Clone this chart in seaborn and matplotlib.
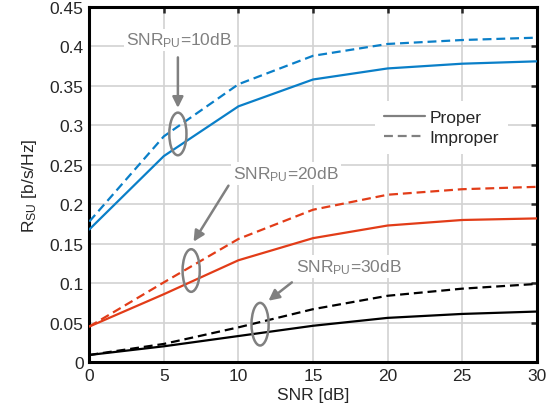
import numpy as np
import pandas as pd
import matplotlib
matplotlib.use('Agg')
import matplotlib.pyplot as plt
import matplotlib as mpl
from matplotlib.patches import Ellipse
from matplotlib.lines import Line2D
import seaborn as sns

# data
snr = [0, 5, 10, 15, 20, 25, 30]
proper_10 = [0.168, 0.261, 0.324, 0.358, 0.372, 0.378, 0.381]
improper_10 = [0.178, 0.286, 0.352, 0.388, 0.403, 0.408, 0.411]
proper_20 = [0.045, 0.086, 0.129, 0.157, 0.173, 0.180, 0.182]
improper_20 = [0.045, 0.101, 0.156, 0.193, 0.212, 0.219, 0.222]
proper_30 = [0.009, 0.020, 0.033, 0.046, 0.056, 0.061, 0.064]
improper_30 = [0.009, 0.023, 0.044, 0.067, 0.084, 0.093, 0.099]

rows = []
for pu, prop, imp in [('10dB', proper_10, improper_10),
                      ('20dB', proper_20, improper_20),
                      ('30dB', proper_30, improper_30)]:
    for x, p, q in zip(snr, prop, imp):
        rows.append({'SNR': x, 'R': p, 'pu': pu, 'kind': 'Proper'})
        rows.append({'SNR': x, 'R': q, 'pu': pu, 'kind': 'Improper'})
df = pd.DataFrame(rows)

sns.set_style('white')
mpl.rcParams['font.family'] = ['Liberation Sans', 'DejaVu Sans']
mpl.rcParams['mathtext.fontset'] = 'custom'
mpl.rcParams['mathtext.rm'] = 'Liberation Sans'
mpl.rcParams['mathtext.it'] = 'Liberation Sans'
fontSize = 12.5

fig, ax = plt.subplots(figsize=(5.58, 4.14), dpi=100)
fig.subplots_adjust(left=0.160, right=0.962, top=0.981, bottom=0.123)

palette = {'10dB': '#0a7fc8', '20dB': '#e23c18', '30dB': 'black'}
dashes = {'Proper': '', 'Improper': (4, 2.2)}
sns.lineplot(ax=ax, data=df, x='SNR', y='R', hue='pu', style='kind',
             palette=palette, dashes=dashes, linewidth=1.6, legend=False,
             zorder=3)

ax.set_xlim(0, 30)
ax.set_ylim(0, 0.45)
ax.set_xticks(snr)
ax.set_yticks(np.arange(0, 0.451, 0.05))
ax.set_yticklabels(['0', '0.05', '0.1', '0.15', '0.2', '0.25', '0.3',
                    '0.35', '0.4', '0.45'])
ax.grid(True, color='#d2d2d2', linewidth=1.2, zorder=0)
ax.set_axisbelow(True)
for s in ax.spines.values():
    s.set_visible(True)
    s.set_color('black')
    s.set_linewidth(2.2)
ax.tick_params(direction='in', length=4, width=1.8, top=True, right=True,
               labelsize=fontSize, pad=4)
ax.set_xlabel('SNR [dB]', fontsize=fontSize, labelpad=3)
ax.set_ylabel(r'R$_{\mathrm{SU}}$ [b/s/Hz]', fontsize=fontSize, labelpad=8)

gray = '#808080'
# ellipses around curve pairs
for cx, cy in [(5.94, 0.289), (6.83, 0.116), (11.45, 0.048)]:
    ax.add_patch(Ellipse((cx, cy), 1.15, 0.054, fill=False, edgecolor=gray,
                         linewidth=1.8, zorder=4))

# arrows
arrows = [((5.94, 0.386), (5.94, 0.322)),
          ((9.33, 0.2235), (6.99, 0.1525)),
          ((13.58, 0.101), (12.01, 0.0777))]
for tail, head in arrows:
    ax.annotate('', xy=head, xytext=tail,
                arrowprops=dict(arrowstyle='-|>', color=gray, lw=1.8,
                                mutation_scale=16, shrinkA=0, shrinkB=0),
                zorder=5)

# labels
labels = [(6.03, 0.408, r'SNR$_{\mathrm{PU}}$=10dB'),
          (13.19, 0.239, r'SNR$_{\mathrm{PU}}$=20dB'),
          (17.4, 0.121, r'SNR$_{\mathrm{PU}}$=30dB')]
for x, y, t in labels:
    ax.text(x, y, t, color=gray, fontsize=fontSize, ha='center', va='center',
            bbox=dict(facecolor='white', edgecolor='none', pad=1.5), zorder=5)

handles = [Line2D([0], [0], color=gray, lw=1.6, linestyle='-'),
           Line2D([0], [0], color=gray, lw=1.6, dashes=(4, 2.2))]
leg = ax.legend(handles, ['Proper', 'Improper'], loc='upper right',
                bbox_to_anchor=(0.955, 0.76), frameon=True, fancybox=False,
                fontsize=fontSize, handlelength=2.4, handletextpad=0.25,
                borderpad=0.5, labelspacing=0.3)
leg.get_frame().set_edgecolor('none')
leg.get_frame().set_facecolor('white')
leg.get_frame().set_alpha(1)

fig.savefig('out.png', dpi=100)
